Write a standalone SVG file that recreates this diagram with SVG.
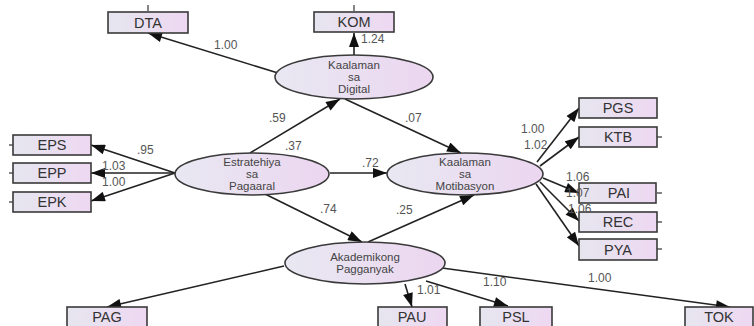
<svg xmlns="http://www.w3.org/2000/svg" width="754" height="326" viewBox="0 0 754 326">
<defs>
<linearGradient id="gb" x1="0" y1="0" x2="1" y2="0"><stop offset="0" stop-color="#e6e6ef"/><stop offset="1" stop-color="#eed8f2"/></linearGradient>
<linearGradient id="ge" x1="0" y1="0" x2="1" y2="0"><stop offset="0" stop-color="#e8e8f2"/><stop offset="1" stop-color="#ecd6f0"/></linearGradient>
<marker id="a" viewBox="0 0 14 10" refX="14" refY="5" markerWidth="15" markerHeight="10" orient="auto" markerUnits="userSpaceOnUse"><path d="M0,0 L14,5 L0,10 z" fill="#111"/></marker>
</defs>
<style>
.box{fill:url(#gb);stroke:#3a3a3a;stroke-width:1.6}
.ell{fill:url(#ge);stroke:#3a3a3a;stroke-width:1.6}
.bt{font-family:"Liberation Sans",Arial,sans-serif;font-size:14.5px;fill:#333;text-anchor:middle}
.et{font-family:"Liberation Sans",Arial,sans-serif;font-size:11.5px;fill:#444;text-anchor:middle}
.lb{font-family:"Liberation Sans",Arial,sans-serif;font-size:12px;fill:#555}
.c{stroke:#222;stroke-width:1.6;fill:none;marker-end:url(#a)}
.s{stroke:#333;stroke-width:1.2}
</style>
<rect width="754" height="326" fill="#fff"/>
<g id="connectors">
<line class="c" x1="278" y1="73" x2="148" y2="33"/>
<line class="c" x1="354" y1="55" x2="354" y2="33"/>
<line class="c" x1="250" y1="153" x2="340" y2="99"/>
<line class="c" x1="345" y1="99" x2="461" y2="153"/>
<line class="c" x1="330" y1="173" x2="387" y2="173"/>
<line class="c" x1="265" y1="194" x2="362" y2="242"/>
<line class="c" x1="368" y1="242" x2="474" y2="195"/>
<line class="c" x1="175" y1="173" x2="91" y2="145"/>
<line class="c" x1="175" y1="173" x2="91" y2="173"/>
<line class="c" x1="175" y1="173" x2="91" y2="201"/>
<line class="c" x1="537" y1="162" x2="579" y2="108"/>
<line class="c" x1="540" y1="166" x2="579" y2="137"/>
<line class="c" x1="543" y1="178" x2="579" y2="193"/>
<line class="c" x1="540" y1="182" x2="579" y2="221"/>
<line class="c" x1="536" y1="184" x2="579" y2="246"/>
<line class="c" x1="284" y1="266" x2="107" y2="307"/>
<line class="c" x1="405" y1="284" x2="412" y2="307"/>
<line class="c" x1="426" y1="281" x2="508" y2="306"/>
<line class="c" x1="442" y1="268" x2="730" y2="307"/>
<line class="s" x1="148" y1="5" x2="148" y2="11"/>
<line class="s" x1="354" y1="5" x2="354" y2="11"/>
<line class="s" x1="9" y1="145" x2="13" y2="145"/>
<line class="s" x1="9" y1="173" x2="13" y2="173"/>
<line class="s" x1="9" y1="202" x2="13" y2="202"/>
<line class="s" x1="657" y1="137" x2="662" y2="137"/>
<line class="s" x1="657" y1="193" x2="662" y2="193"/>
<line class="s" x1="657" y1="222" x2="662" y2="222"/>
<line class="s" x1="657" y1="249" x2="662" y2="249"/>
</g>
<g id="DTA"><rect class="box" x="108" y="12" width="80" height="21"/><text class="bt" x="148" y="28">DTA</text></g>
<g id="KOM"><rect class="box" x="314" y="12" width="80" height="20"/><text class="bt" x="354" y="27">KOM</text></g>
<g id="Digital"><ellipse class="ell" cx="354" cy="77" rx="79" ry="22"/><text class="et" x="354" y="69">Kaalaman</text><text class="et" x="354" y="81">sa</text><text class="et" x="354" y="93">Digital</text></g>
<g id="Pagaaral"><ellipse class="ell" cx="252" cy="174" rx="77" ry="21"/><text class="et" x="252" y="166">Estratehiya</text><text class="et" x="252" y="178">sa</text><text class="et" x="252" y="190">Pagaaral</text></g>
<g id="Motibasyon"><ellipse class="ell" cx="465" cy="174" rx="78" ry="21"/><text class="et" x="465" y="166">Kaalaman</text><text class="et" x="465" y="178">sa</text><text class="et" x="465" y="190">Motibasyon</text></g>
<g id="Akademikong"><ellipse class="ell" cx="365" cy="263" rx="80" ry="21"/><text class="et" x="365" y="261">Akademikong</text><text class="et" x="365" y="273">Pagganyak</text></g>
<g id="EPS"><rect class="box" x="13" y="135" width="78" height="20"/><text class="bt" x="52" y="150">EPS</text></g>
<g id="EPP"><rect class="box" x="13" y="163" width="78" height="20"/><text class="bt" x="52" y="178">EPP</text></g>
<g id="EPK"><rect class="box" x="13" y="192" width="78" height="20"/><text class="bt" x="52" y="207">EPK</text></g>
<g id="PGS"><rect class="box" x="579" y="98" width="78" height="20"/><text class="bt" x="618" y="113">PGS</text></g>
<g id="KTB"><rect class="box" x="579" y="127" width="78" height="20"/><text class="bt" x="618" y="142">KTB</text></g>
<g id="PAI"><rect class="box" x="579" y="183" width="77" height="20"/><text class="bt" x="619" y="198">PAI</text></g>
<g id="REC"><rect class="box" x="579" y="212" width="78" height="20"/><text class="bt" x="618" y="227">REC</text></g>
<g id="PYA"><rect class="box" x="579" y="239" width="78" height="21"/><text class="bt" x="618" y="255">PYA</text></g>
<g id="PAG"><rect class="box" x="67" y="307" width="80" height="24"/><text class="bt" x="107" y="322">PAG</text></g>
<g id="PAU"><rect class="box" x="378" y="307" width="69" height="24"/><text class="bt" x="412" y="322">PAU</text></g>
<g id="PSL"><rect class="box" x="480" y="307" width="72" height="24"/><text class="bt" x="516" y="322">PSL</text></g>
<g id="TOK"><rect class="box" x="685" y="307" width="68" height="24"/><text class="bt" x="719" y="322">TOK</text></g>
<g id="labels">
<text class="lb" x="214" y="49">1.00</text>
<text class="lb" x="361" y="43">1.24</text>
<text class="lb" x="269" y="122">.59</text>
<text class="lb" x="285" y="150">.37</text>
<text class="lb" x="405" y="122">.07</text>
<text class="lb" x="362" y="167">.72</text>
<text class="lb" x="320" y="213">.74</text>
<text class="lb" x="396" y="214">.25</text>
<text class="lb" x="137" y="154">.95</text>
<text class="lb" x="102" y="170">1.03</text>
<text class="lb" x="102" y="186">1.00</text>
<text class="lb" x="521" y="133">1.00</text>
<text class="lb" x="524" y="149">1.02</text>
<text class="lb" x="566" y="181">1.06</text>
<text class="lb" x="566" y="197">1.07</text>
<text class="lb" x="568" y="213">1.06</text>
<text class="lb" x="417" y="294">1.01</text>
<text class="lb" x="483" y="286">1.10</text>
<text class="lb" x="588" y="282">1.00</text>
</g>
</svg>
